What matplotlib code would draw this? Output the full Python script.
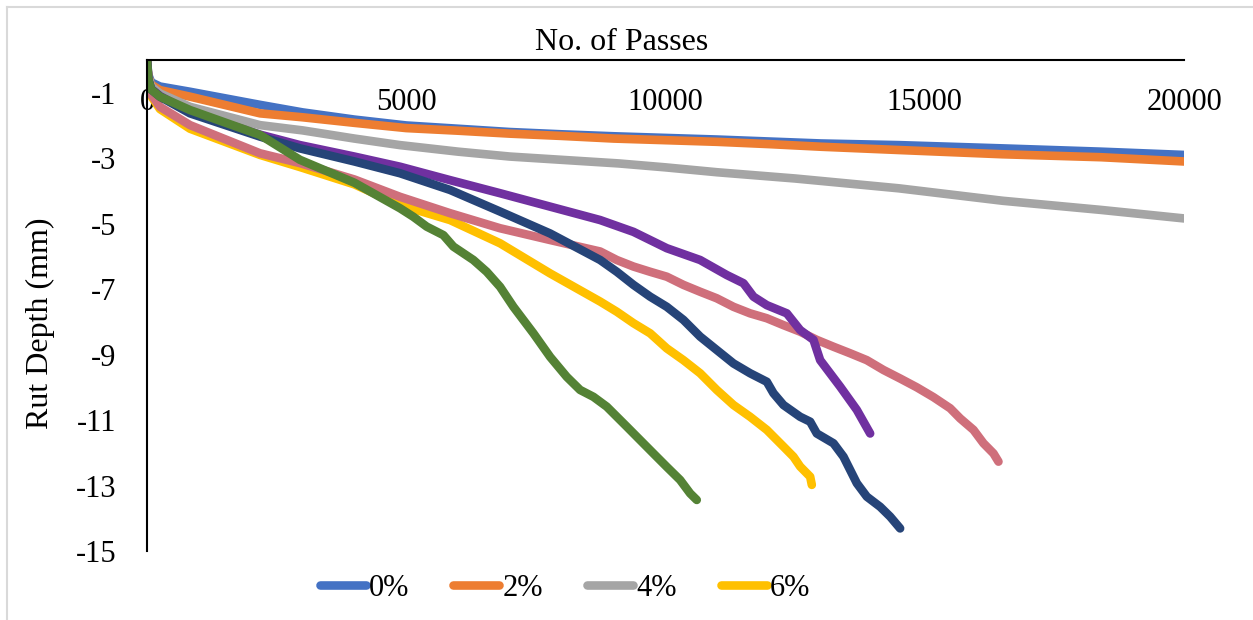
import matplotlib
matplotlib.use("Agg")
import matplotlib.pyplot as plt
from matplotlib.lines import Line2D

plt.rcParams['font.family'] = ['Liberation Serif', 'DejaVu Serif']
plt.rcParams['axes.unicode_minus'] = False

# rut depth (mm) against number of wheel passes
passes_0 = [0, 25, 80, 250, 830, 2180, 3000, 4000, 5000, 6000, 7000, 8000, 9000,
            10000, 11000, 12000, 13000, 14500, 16500, 18400, 20000]
depth_0 = [0, -0.45, -0.68, -0.81, -0.97, -1.37, -1.6, -1.82, -2.0, -2.1, -2.2, -2.27,
           -2.33, -2.38, -2.43, -2.49, -2.55, -2.6, -2.7, -2.8, -2.9]

passes_2 = [0, 25, 80, 250, 830, 2180, 3000, 4000, 5000, 6000, 7000, 8000, 9000,
            10000, 11000, 12000, 13000, 14500, 16500, 18400, 20000]
depth_2 = [0, -0.5, -0.75, -0.92, -1.12, -1.63, -1.75, -1.92, -2.08, -2.16, -2.25, -2.32,
           -2.4, -2.45, -2.5, -2.57, -2.65, -2.75, -2.88, -2.97, -3.1]

passes_4 = [0, 25, 80, 250, 830, 2180, 3000, 4000, 4880, 6000, 7000, 8000, 9100,
            10000, 11000, 12500, 13500, 14500, 16500, 18400, 20000]
depth_4 = [0, -0.5, -0.8, -1.02, -1.43, -1.99, -2.15, -2.4, -2.6, -2.8, -2.95, -3.05,
           -3.16, -3.28, -3.43, -3.62, -3.77, -3.92, -4.3, -4.58, -4.84]

passes_6 = [0, 25, 80, 250, 830, 2180, 2950, 4000, 4880, 5845, 6810, 7775, 8740, 9061,
            9382, 9704, 10025, 10346, 10668, 10989, 11311, 11632, 11954, 12275, 12468,
            12597, 12790, 12822]
depth_6 = [0, -0.7, -1.1, -1.5, -2.1, -2.9, -3.27, -3.8, -4.43, -4.89, -5.6, -6.52, -7.38,
           -7.69, -8.04, -8.35, -8.81, -9.17, -9.57, -10.08, -10.54, -10.9, -11.3, -11.81,
           -12.12, -12.42, -12.73, -12.98]

passes_pink = [0, 25, 80, 250, 830, 2180, 2950, 4000, 4880, 5845, 6810, 7775, 8740, 9061,
               9382, 9704, 10025, 10346, 10668, 10989, 11311, 11632, 11954, 12275, 12597,
               12918, 13240, 13561, 13883, 14204, 14525, 14847, 15168, 15490, 15683,
               15940, 16133, 16326, 16422]
depth_pink = [0, -0.7, -1.05, -1.43, -1.99, -2.85, -3.15, -3.65, -4.18, -4.68, -5.14, -5.5,
              -5.85, -6.11, -6.31, -6.47, -6.62, -6.87, -7.08, -7.28, -7.54, -7.74, -7.89,
              -8.1, -8.3, -8.55, -8.76, -8.96, -9.17, -9.47, -9.73, -10.0, -10.3, -10.64,
              -10.95, -11.3, -11.71, -12.02, -12.27]

passes_purple = [0, 25, 80, 250, 830, 2180, 2950, 4000, 4880, 5845, 6810, 7775, 8740,
                 9382, 10025, 10668, 11183, 11504, 11697, 11954, 12340, 12597, 12854,
                 12983, 13369, 13690, 13947]
depth_purple = [0, -0.6, -0.88, -1.1, -1.6, -2.28, -2.6, -2.95, -3.26, -3.67, -4.07, -4.48,
                -4.89, -5.25, -5.75, -6.11, -6.57, -6.82, -7.23, -7.49, -7.74, -8.25,
                -8.55, -9.17, -9.98, -10.69, -11.41]

passes_navy = [0, 25, 80, 250, 830, 2180, 2950, 4000, 4880, 5845, 6810, 7775, 8740, 9061,
               9382, 9704, 10025, 10346, 10668, 10989, 11311, 11632, 11954, 12082, 12275,
               12597, 12790, 12918, 13240, 13433, 13690, 13883, 14140, 14333, 14525]
depth_navy = [0, -0.6, -0.9, -1.12, -1.63, -2.34, -2.7, -3.1, -3.46, -3.97, -4.63, -5.3,
              -6.11, -6.47, -6.87, -7.23, -7.54, -7.94, -8.45, -8.86, -9.27, -9.57, -9.83,
              -10.18, -10.54, -10.9, -11.05, -11.41, -11.71, -12.12, -12.93, -13.34,
              -13.65, -13.95, -14.31]

passes_green = [0, 25, 80, 250, 830, 2180, 2950, 4000, 4880, 5137, 5394, 5716, 5909, 6295,
                6552, 6810, 7067, 7453, 7775, 8096, 8353, 8610, 8867, 9253, 9510, 9767,
                10025, 10282, 10475, 10603]
depth_green = [0, -0.6, -0.9, -1.12, -1.53, -2.29, -3.05, -3.75, -4.53, -4.79, -5.09, -5.35,
               -5.7, -6.11, -6.47, -6.93, -7.54, -8.35, -9.07, -9.68, -10.08, -10.29,
               -10.59, -11.2, -11.61, -12.02, -12.43, -12.83, -13.24, -13.44]

series = [
    (passes_0, depth_0, '#4472C4', '0%'),
    (passes_2, depth_2, '#ED7D31', '2%'),
    (passes_4, depth_4, '#A5A5A5', '4%'),
    (passes_6, depth_6, '#FFC000', '6%'),
    (passes_pink, depth_pink, '#CF6F7B', '_nolegend_'),
    (passes_purple, depth_purple, '#7030A0', '_nolegend_'),
    (passes_navy, depth_navy, '#264478', '_nolegend_'),
    (passes_green, depth_green, '#548235', '_nolegend_'),
]

fig = plt.figure(figsize=(12.53, 6.2), dpi=100)
W, H = 1253, 620
ax = fig.add_axes([147 / W, 1 - 551 / H, (1184 - 147) / W, (551 - 60) / H])

for x, y, c, lab in series:
    ax.plot(x, y, color=c, lw=6.2, label=lab, solid_capstyle='round',
            solid_joinstyle='round')

ax.set_xlim(0, 20000)
ax.set_ylim(-15, 0)
ax.set_xticks([0, 5000, 10000, 15000, 20000])
ax.set_yticks([-1, -3, -5, -7, -9, -11, -13, -15])

for s in ['top', 'right']:
    ax.spines[s].set_visible(False)
ax.spines['bottom'].set_position(('data', 0))
ax.spines['bottom'].set_linewidth(1.5)
ax.spines['left'].set_linewidth(1.5)
ax.tick_params(axis='x', length=0, pad=20, labelsize=22)
ax.tick_params(axis='y', length=0, pad=22, labelsize=22)

fig.text(622 / W, 1 - 42 / H, 'No. of Passes', fontsize=23, ha='center', va='center')
fig.text(40 / W, 1 - 323 / H, 'Rut Depth (mm)', fontsize=23, rotation=90,
         ha='center', va='center')

leg = ax.legend(loc='center', bbox_to_anchor=(565 / W, 1 - 588 / H),
                bbox_transform=fig.transFigure, ncol=4, frameon=False, fontsize=22,
                handlelength=1.5, handletextpad=0.1, columnspacing=1.45)
for h in leg.legend_handles:
    h.set_linewidth(6.2)

# light frame around the chart area
fig.add_artist(Line2D([7 / W, 7 / W], [0, 1 - 7 / H], color='#D9D9D9', lw=1.5))
fig.add_artist(Line2D([7 / W, 1], [1 - 7 / H, 1 - 7 / H], color='#D9D9D9', lw=1.5))

fig.savefig('out.png', dpi=100)
